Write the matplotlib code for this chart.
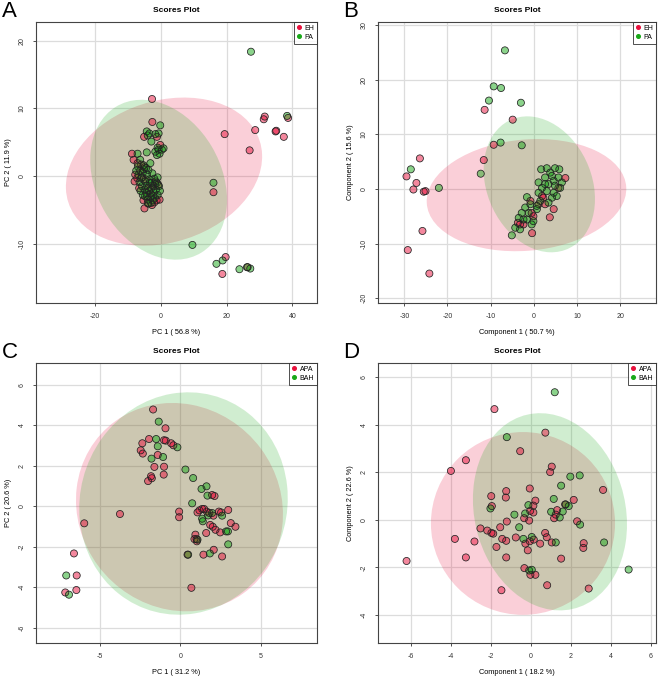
import matplotlib
matplotlib.use("Agg")
import matplotlib.pyplot as plt
from matplotlib.patches import Ellipse
from matplotlib.lines import Line2D

plt.rcParams['font.family'] = ['Liberation Sans', 'DejaVu Sans']
plt.rcParams['axes.unicode_minus'] = False

# ---------------- panel A : PCA, EH vs PA ----------------
a_eh = [(-2.7, 11.4), (31.6, 8.8), (31.3, 8.4), (28.7, 6.8), (34.9, 6.6), (35.1, 6.7),
        (38.7, 8.6), (37.4, 5.8), (19.4, 6.2), (27.0, 3.8), (16.0, -2.4), (19.7, -12.0),
        (18.7, -14.5), (26.4, -13.5), (-5.0, -4.8),
        (-2.6, 8.0), (-5.1, 5.8), (-1.2, 5.8), (-0.2, 4.6),
        (-8.8, 3.3), (-8.3, 2.4), (-7.1, 1.9),
        (-8.0, -0.8), (-7.2, -0.3), (-6.3, 0.8), (-5.7, -0.2), (-4.6, -0.5), (-3.9, -1.8),
        (-3.1, -2.6), (-2.3, -1.5), (-1.6, -0.8), (-5.3, -3.6), (-4.2, -3.0), (-2.7, -4.3),
        (-1.3, -3.6), (-0.8, -1.3), (-6.0, 1.7), (-5.0, 1.3), (-4.0, -4.0), (-2.0, -3.9),
        (-7.8, 0.2), (-6.6, -1.8), (-0.4, -3.5)]
a_pa = [(27.4, 18.4), (38.4, 8.9), (16.0, -1.0), (9.6, -10.2), (18.8, -12.5), (16.9, -13.0),
        (23.9, -13.8), (26.2, -13.5), (27.2, -13.7),
        (-0.2, 7.5), (-4.3, 6.6), (-3.5, 6.3), (-0.7, 6.3), (-1.7, 6.2), (-2.9, 5.1), (-4.0, 6.0),
        (-4.3, 3.5), (-1.7, 3.6), (-0.7, 3.9), (0.3, 3.9), (0.8, 4.1), (-0.4, 3.3), (-1.2, 3.1),
        (-1.0, 4.2), (-7.1, 3.3), (-6.3, 2.4), (-3.2, 1.9), (-5.3, 1.6),
        (-7.5, 0.8), (-6.8, 0.2), (-6.0, -0.3), (-5.5, 0.5), (-4.8, -0.8), (-4.2, 0.2),
        (-3.5, -0.5), (-2.8, -1.0), (-2.0, -0.4), (-1.2, -1.0), (-0.6, -1.5), (-1.0, -0.2),
        (-5.8, -1.5), (-5.0, -2.0), (-4.3, -1.4), (-3.6, -2.2), (-2.9, -1.8), (-2.2, -2.4),
        (-1.5, -2.0), (-4.8, -3.0), (-4.0, -3.5), (-3.2, -3.0), (-2.5, -3.6), (-1.8, -3.2),
        (-1.0, -2.8), (-3.0, -4.0), (-6.5, -0.9), (-7.0, 1.4), (-5.2, 1.0), (-4.5, 1.2),
        (-3.8, 0.9), (-2.6, 0.4), (-6.2, -2.2), (-5.5, -2.8), (-4.4, -2.5), (-3.4, -1.0),
        (-0.3, -2.2), (-1.8, -1.2), (-2.4, -2.9), (-3.8, -4.1)]
# confidence ellipses: centre x, centre y, width, height, angle
a_eh_ell = [0.95, 0.65, 59.9, 21.4, 4.9]
a_pa_ell = [-0.7, -0.55, 42.2, 22.6, -11.4]

# ---------------- panel B : PLS-DA, EH vs PA ----------------
b_eh = [(-11.4, 14.5), (-4.9, 12.7), (-9.3, 8.1), (-11.6, 5.3), (-26.4, 5.6), (-29.5, 2.3),
        (-27.2, 1.1), (-27.9, -0.1), (-25.5, -0.5), (-25.1, -0.4), (-25.8, -7.7),
        (-29.2, -11.2), (-24.2, -15.5), (-0.4, -8.1), (3.7, -5.2), (4.6, -3.7),
        (7.3, 2.0), (1.9, -1.3), (2.2, -1.6), (1.1, -2.8), (2.6, -2.8), (5.7, 0.2),
        (-3.2, -6.5), (-3.7, -6.2), (-0.5, -4.4), (-0.1, -5.0), (-2.4, -6.5), (-0.8, -2.2)]
b_pa = [(-6.7, 25.4), (-9.3, 18.8), (-7.6, 18.5), (-10.4, 16.2), (-3.0, 15.8), (-7.7, 8.5),
        (-2.8, 8.0), (-12.3, 2.8), (-28.5, 3.6), (-22.0, 0.2), (-5.1, -8.5),
        (1.7, 3.6), (3.0, 3.8), (4.9, 3.8), (5.9, 3.6), (1.1, 1.2), (2.6, 2.1), (4.2, 2.4),
        (5.7, 2.1), (3.4, 0.9), (4.9, 0.6), (1.9, 0.2), (3.0, -0.4), (4.6, -0.7), (1.1, -0.7),
        (4.2, -1.6), (5.3, -1.3), (1.5, -2.2), (3.4, -2.5), (0.7, -3.1), (6.1, 0.2),
        (6.5, 1.2), (3.8, 3.0), (4.6, 1.5), (2.6, 0.9),
        (-1.6, -1.5), (-0.8, -2.8), (-2.0, -3.4), (-2.8, -4.4), (-1.2, -4.4), (-3.5, -5.3),
        (-2.4, -5.6), (-3.2, -7.4), (-0.1, -5.9), (-0.5, -6.5), (-4.3, -7.1), (-1.6, -5.6),
        (0.7, -3.7)]
b_eh_ell = [-1.7, -1.13, 46.3, 20.4, 3.5]
b_pa_ell = [1.27, 0.85, 28.0, 22.4, -40.5]

# ---------------- panel C : PCA, APA vs BAH ----------------
c_apa = [(-1.70, 4.79), (-0.93, 3.86), (-1.95, 3.33), (-1.02, 3.27), (-0.91, 3.25),
         (-2.37, 3.12), (-0.58, 3.12), (-0.44, 3.02), (-2.47, 2.77), (-2.34, 2.61),
         (-1.41, 2.54), (-1.62, 1.95), (-1.02, 1.96), (-1.83, 1.49), (-1.78, 1.39),
         (-2.01, 1.25), (-1.04, 1.57), (1.97, 0.56), (2.12, 0.51), (-5.98, -0.84),
         (-3.76, -0.38), (-0.08, -0.26), (-0.08, -0.54), (1.06, -0.30), (1.18, -0.20),
         (1.35, -0.13), (1.47, -0.13), (1.64, -0.26), (1.80, -0.33), (2.05, -0.46),
         (2.39, -0.26), (2.53, -0.30), (2.97, -0.18), (3.13, -0.83), (3.42, -1.01),
         (2.47, -1.29), (2.18, -1.16), (1.85, -0.92), (2.01, -1.01), (1.60, -1.32),
         (0.93, -1.40), (1.00, -1.62), (0.87, -1.62), (1.02, -1.73), (0.44, -2.39),
         (1.43, -2.39), (2.07, -2.15), (2.59, -2.48), (0.68, -4.03), (-6.62, -2.33),
         (-6.45, -3.42), (-7.16, -4.26), (-6.47, -4.14)]
c_bah = [(-1.35, 4.19), (-1.51, 3.33), (-1.41, 2.97), (-0.19, 2.92), (-1.80, 2.36),
         (-1.08, 2.44), (0.31, 1.82), (0.79, 1.40), (1.31, 0.86), (1.62, 0.99), (1.68, 0.53),
         (0.73, 0.15), (1.35, -0.61), (1.72, -0.45), (1.97, -0.33), (2.59, -0.46),
         (1.39, -0.74), (2.84, -1.24), (2.95, -1.24), (2.97, -1.88), (1.06, -1.65),
         (0.48, -2.39), (1.83, -2.33), (-7.10, -3.42), (-6.93, -4.37)]
c_apa_ell = [-0.06, -0.04, 12.92, 10.24, -8.5]
c_bah_ell = [0.19, 0.14, 13.0, 10.96, 7.8]

# ---------------- panel D : PLS-DA, APA vs BAH ----------------
d_apa = [(-1.82, 4.66), (0.73, 3.67), (-0.53, 2.89), (-3.25, 2.51), (-4.00, 2.06),
         (1.05, 2.24), (0.97, 2.01), (-0.05, 1.32), (3.62, 1.26), (-1.23, 1.21),
         (-1.98, 1.00), (-1.25, 0.94), (2.15, 0.84), (0.23, 0.81), (1.72, 0.65),
         (-1.95, 0.58), (0.13, 0.60), (1.32, 0.41), (1.17, 0.07), (1.25, 0.22),
         (-0.03, 0.38), (0.13, 0.31), (-0.33, 0.07), (-0.08, -0.03), (-1.20, -0.07),
         (2.32, -0.06), (-1.53, -0.31), (-2.52, -0.36), (-2.18, -0.45), (-1.97, -0.55),
         (-1.88, -0.58), (-0.75, -0.74), (-1.23, -0.88), (-1.43, -0.80), (0.15, -0.83),
         (-0.05, -0.90), (-0.27, -1.00), (0.72, -0.55), (0.80, -0.73), (0.47, -1.00),
         (1.05, -0.95), (2.65, -0.98), (2.63, -1.18), (-3.80, -0.80), (-2.82, -0.91),
         (-1.72, -1.14), (-0.15, -1.28), (-3.25, -1.58), (-1.23, -1.58), (1.52, -1.63),
         (-6.22, -1.73), (-0.32, -2.03), (-0.02, -2.31), (0.23, -2.31), (0.82, -2.75),
         (2.90, -2.89), (-1.47, -2.96)]
d_bah = [(1.20, 5.37), (-1.20, 3.48), (1.98, 1.82), (2.45, 1.87), (1.52, 1.44),
         (1.15, 0.88), (1.75, 0.65), (1.90, 0.58), (-2.02, 0.48), (-0.12, 0.62),
         (1.02, 0.34), (1.60, 0.35), (1.45, 0.10), (-0.82, 0.22), (-0.28, 0.27),
         (2.47, -0.20), (-0.58, -0.31), (-0.37, -0.80), (0.05, -0.72), (1.25, -0.95),
         (3.67, -0.95), (-0.08, -2.13), (0.05, -2.10), (4.90, -2.09)]
d_apa_ell = [-0.39, -0.15, 9.22, 7.69, 0.0]
d_bah_ell = [0.96, 0.34, 8.58, 7.40, -59.8]

RED = "#E8103C"
GREEN = "#18A818"
W, H = 661, 678


def draw_panel(rect, g1, g2, e1, e2, names, xlabel, ylabel, xlim, ylim, xticks, yticks):
    l, t, w, h = rect
    ax = fig.add_axes([l / W, 1 - (t + h) / H, w / W, h / H])
    ax.set_xlim(xlim)
    ax.set_ylim(ylim)
    ax.set_xticks(xticks)
    ax.set_yticks(yticks)
    ax.grid(True, color="#dcdcdc", linewidth=0.9)
    ax.set_axisbelow(True)

    for e, col in ((e1, RED), (e2, GREEN)):
        ax.add_patch(Ellipse((e[0], e[1]), e[2], e[3], angle=e[4],
                             facecolor=col, alpha=0.2, edgecolor="none", zorder=1))

    for pts, col in ((g1, RED), (g2, GREEN)):
        xs = [p[0] for p in pts]
        ys = [p[1] for p in pts]
        ax.scatter(xs, ys, s=26, facecolor=col, alpha=0.5, edgecolor="none", zorder=3)
        ax.scatter(xs, ys, s=26, facecolor="none", edgecolor="#222222", linewidth=0.55, zorder=4)

    ax.set_title("Scores Plot", fontsize=6, fontweight="bold", pad=7)
    ax.set_xlabel(xlabel, fontsize=5.3, labelpad=6)
    ax.set_ylabel(ylabel, fontsize=5.3, labelpad=5)
    ax.tick_params(labelsize=5, length=2.5, width=0.6, colors="#333333", pad=5)
    for lab in ax.get_yticklabels():
        lab.set_rotation(90)
        lab.set_va("center")
    for s in ax.spines.values():
        s.set_color("#444444")
        s.set_linewidth(0.8)

    handles = [Line2D([], [], marker="o", linestyle="none", markersize=2.6,
                      markerfacecolor=c, markeredgecolor=c) for c in (RED, GREEN)]
    leg = ax.legend(handles, names, loc="upper right", fontsize=5, frameon=True,
                    fancybox=False, borderaxespad=0, handlelength=0.6, handletextpad=0.5,
                    borderpad=0.4, labelspacing=0.3)
    leg.get_frame().set_edgecolor("#222222")
    leg.get_frame().set_linewidth(0.7)
    return ax


fig = plt.figure(figsize=(6.61, 6.78), dpi=100)

draw_panel((36, 22, 281, 281), a_eh, a_pa, a_eh_ell, a_pa_ell, ["EH", "PA"],
           "PC 1 ( 56.8 %)", "PC 2 ( 11.9 %)", (-38, 47.5), (-18.8, 22.8),
           [-20, 0, 20, 40], [-10, 0, 10, 20])
draw_panel((378, 22, 278, 281), b_eh, b_pa, b_eh_ell, b_pa_ell, ["EH", "PA"],
           "Component 1 ( 50.7 %)", "Component 2 ( 15.6 %)", (-36.1, 28.3), (-20.9, 30.6),
           [-30, -20, -10, 0, 10, 20], [-20, -10, 0, 10, 20, 30])
draw_panel((36, 363, 281, 280), c_apa, c_bah, c_apa_ell, c_bah_ell, ["APA", "BAH"],
           "PC 1 ( 31.2 %)", "PC 2 ( 20.6 %)", (-8.98, 8.49), (-6.76, 7.09),
           [-5, 0, 5], [-6, -4, -2, 0, 2, 4, 6])
draw_panel((378, 363, 278, 280), d_apa, d_bah, d_apa_ell, d_bah_ell, ["APA", "BAH"],
           "Component 1 ( 18.2 %)", "Component 2 ( 22.6 %)", (-7.65, 6.27), (-5.18, 6.6),
           [-6, -4, -2, 0, 2, 4, 6], [-4, -2, 0, 2, 4, 6])

for letter, x, y in (("A", 2, 1), ("B", 343, 1), ("C", 2, 342), ("D", 343, 342)):
    fig.text(x / W, 1 - y / H, letter, fontsize=16, va="top", ha="left")

fig.savefig("out.png", dpi=100)
